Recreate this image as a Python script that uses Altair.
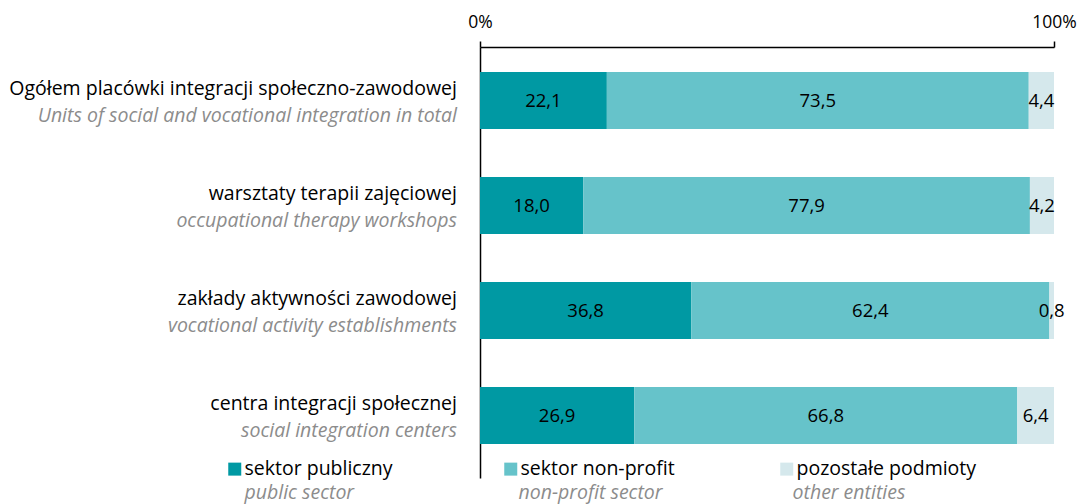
import altair as alt
import pandas as pd

categories_pl = [
    "Ogółem placówki integracji społeczno-zawodowej",
    "warsztaty terapii zajęciowej",
    "zakłady aktywności zawodowej",
    "centra integracji społecznej",
]
categories_en = [
    "Units of social and vocational integration in total",
    "occupational therapy workshops",
    "vocational activity establishments",
    "social integration centers",
]
sectors_pl = ["sektor publiczny", "sektor non-profit", "pozostałe podmioty"]
sectors_en = ["public sector", "non-profit sector", "other entities"]
public = [22.1, 18.0, 36.8, 26.9]
nonprofit = [73.5, 77.9, 62.4, 66.8]
other = [4.4, 4.2, 0.8, 6.4]
colors = ["#0099A3", "#66C3CA", "#D5E8EC"]

FONT = "Open Sans"
FS = 19.5

rows = []
for i, cat in enumerate(categories_pl):
    for j, vals in enumerate([public, nonprofit, other]):
        v = vals[i]
        rows.append({
            "cat": cat,
            "cat_en": categories_en[i],
            "sector": sectors_pl[j],
            "sector_en": sectors_en[j],
            "order": j,
            "value": v,
            "label": f"{v:.1f}".replace(".", ","),
        })
df = pd.DataFrame(rows)
cats_df = pd.DataFrame({"cat": categories_pl, "cat_en": categories_en})

yscale = alt.Scale(domain=categories_pl, paddingInner=0.457, paddingOuter=0.281, align=0.424)
yaxis = alt.Axis(labels=False, ticks=False, title=None, domainColor="#000000", domainWidth=1.5, grid=False)
xscale = alt.Scale(domain=[0, 1])

base = alt.Chart(df).transform_stack(
    stack="value", groupby=["cat"], sort=[alt.SortField("order")],
    as_=["x0", "x1"], offset="normalize",
).transform_calculate(mid="(datum.x0 + datum.x1) / 2")

bars = base.mark_bar().encode(
    x=alt.X("x0:Q", scale=xscale, title=None,
            axis=alt.Axis(orient="top", values=[0, 1], format="%", grid=False,
                          tickSize=6, tickWidth=1.5, tickColor="#000000",
                          domainColor="#000000", domainWidth=1.5,
                          labelFont=FONT, labelFontSize=17.5, labelColor="#000000",
                          labelPadding=10, labelFlush=False)),
    x2="x1:Q",
    y=alt.Y("cat:N", scale=yscale, axis=yaxis),
    color=alt.Color("sector:N", scale=alt.Scale(domain=sectors_pl, range=colors),
                    legend=alt.Legend(orient="none", legendX=-255, legendY=412,
                                      direction="horizontal", columns=3, gridAlign="all",
                                      columnPadding=76, title=None, symbolType="square",
                                      symbolSize=169, symbolStrokeWidth=0, symbolOpacity=1,
                                      labelFont=FONT, labelFontSize=FS, labelColor="#000000",
                                      labelOffset=0, labelLimit=400)),
    order=alt.Order("order:Q"),
)

values = base.mark_text(font=FONT, fontSize=18.5, color="#000000", baseline="middle").encode(
    x=alt.X("mid:Q", scale=xscale),
    y=alt.Y("cat:N", scale=yscale, axis=yaxis),
    text="label:N",
)

lab_pl = alt.Chart(cats_df).mark_text(font=FONT, fontSize=FS, color="#000000", align="right",
                                      baseline="middle", dy=-12).encode(
    x=alt.value(-23),
    y=alt.Y("cat:N", scale=yscale, axis=yaxis),
    text="cat:N",
)
lab_en = alt.Chart(cats_df).mark_text(font=FONT, fontSize=FS, color="#8C8C8C", align="right",
                                      baseline="middle", fontStyle="italic", dy=15).encode(
    x=alt.value(-23),
    y=alt.Y("cat:N", scale=yscale, axis=yaxis),
    text="cat_en:N",
)

legend_en = alt.Chart(df).mark_point(opacity=0).encode(
    x=alt.value(0),
    y=alt.value(0),
    shape=alt.Shape("sector_en:N", scale=alt.Scale(domain=sectors_en, range=["square", "square", "square"]),
                    legend=alt.Legend(orient="none", legendX=-255, legendY=436,
                                      direction="horizontal", columns=3, gridAlign="all",
                                      columnPadding=110, title=None, symbolSize=169,
                                      symbolOpacity=0, symbolStrokeWidth=0,
                                      labelFont=FONT, labelFontSize=FS, labelColor="#8C8C8C",
                                      labelFontStyle="italic", labelOffset=0, labelLimit=400)),
)

chart = alt.layer(bars, values, lab_pl, lab_en, legend_en).properties(
    width=574, height=431,
    autosize=alt.AutoSizeParams(type="none"),
    padding={"left": 472, "top": 39, "right": 29, "bottom": 26},
).configure_view(stroke=None)

chart.save("out.html", embed_options={"renderer": "svg", "actions": False})
